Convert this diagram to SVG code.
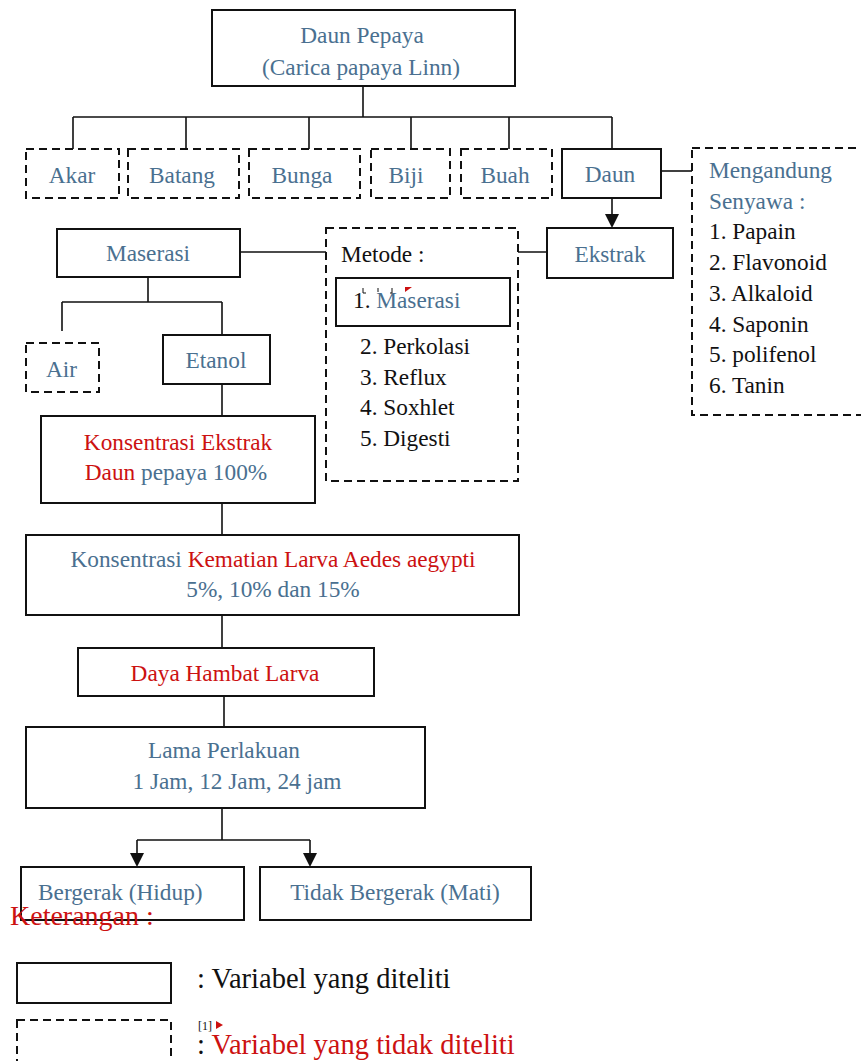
<svg xmlns="http://www.w3.org/2000/svg" width="861" height="1061" viewBox="0 0 861 1061">
<style>
text{font-family:"Liberation Serif","Times New Roman",serif;font-size:23.3px;fill:#4a7090}
.k{fill:#111}
.r{fill:#cc1111}
.m{text-anchor:middle}
.box{fill:#fff;stroke:#111;stroke-width:2}
.dash{fill:#fff;stroke:#111;stroke-width:2;stroke-dasharray:8 5}
.ln{fill:none;stroke:#111;stroke-width:1.6}
</style>
<rect width="861" height="1061" fill="#fff"/>
<g id="connectors">
<path class="ln" d="M363,86 V117 M73,117 H612 M73,117 V149 M186,117 V149 M309,117 V149 M411,117 V149 M509,117 V149 M612,117 V149"/>
<path class="ln" d="M661,171 H692"/>
<path class="ln" d="M612,198 V216"/>
<polygon points="605,214 619,214 612,228" fill="#111"/>
<path class="ln" d="M547,252 H518 M240,252 H326"/>
<path class="ln" d="M148,277 V302 M62,302 H222 M62,302 V331 M222,302 V335"/>
<path class="ln" d="M222,384 V416 M222,503 V535 M222,615 V648 M224,696 V727 M222,808 V840 M137,840 H310 M137,840 V855 M310,840 V855"/>
<polygon points="130,853 144,853 137,867" fill="#111"/>
<polygon points="303,853 317,853 310,867" fill="#111"/>
</g>
<g id="daun-pepaya"><rect class="box" x="212" y="10" width="303" height="76"/><text class="m" x="362" y="43">Daun Pepaya</text><text class="m" x="361" y="75">(Carica papaya Linn)</text></g>
<g id="akar"><rect class="dash" x="26" y="149" width="93" height="49"/><text class="m" x="72" y="183">Akar</text></g>
<g id="batang"><rect class="dash" x="128" y="149" width="111" height="49"/><text class="m" x="182" y="183">Batang</text></g>
<g id="bunga"><rect class="dash" x="249" y="149" width="111" height="49"/><text class="m" x="302" y="183">Bunga</text></g>
<g id="biji"><rect class="dash" x="371" y="149" width="79" height="49"/><text class="m" x="406" y="183">Biji</text></g>
<g id="buah"><rect class="dash" x="461" y="149" width="91" height="49"/><text class="m" x="505" y="183">Buah</text></g>
<g id="daun"><rect class="box" x="562" y="149" width="99" height="49"/><text class="m" x="610" y="182">Daun</text></g>
<g id="senyawa"><rect class="dash" x="692" y="148" width="180" height="267"/>
<text x="709" y="178">Mengandung</text><text x="709" y="209">Senyawa :</text>
<text class="k" x="709" y="239">1. Papain</text><text class="k" x="709" y="270">2. Flavonoid</text><text class="k" x="709" y="301">3. Alkaloid</text><text class="k" x="709" y="332">4. Saponin</text><text class="k" x="709" y="362">5. polifenol</text><text class="k" x="709" y="393">6. Tanin</text></g>
<g id="ekstrak"><rect class="box" x="547" y="228" width="126" height="50"/><text class="m" x="610" y="262">Ekstrak</text></g>
<g id="metode"><rect class="dash" x="326" y="228" width="192" height="253"/>
<text class="k" x="341" y="262">Metode :</text>
<rect class="box" x="336" y="278" width="174" height="48"/>
<text x="353" y="308"><tspan class="k">1. </tspan>Maserasi</text>
<path d="M363,288 V293 H366 M378,288 V292 M392,288 V293 H390" fill="none" stroke="#111" stroke-width="1"/>
<polygon points="405,287 412,287 405,292" fill="#cc1111"/>
<text class="k" x="360" y="354">2. Perkolasi</text><text class="k" x="360" y="385">3. Reflux</text><text class="k" x="360" y="415">4. Soxhlet</text><text class="k" x="360" y="446">5. Digesti</text></g>
<g id="maserasi"><rect class="box" x="57" y="229" width="183" height="48"/><text class="m" x="148" y="261">Maserasi</text></g>
<g id="air"><rect class="dash" x="26" y="343" width="73" height="49"/><text x="46" y="377">Air</text></g>
<g id="etanol"><rect class="box" x="163" y="335" width="107" height="49"/><text class="m" x="216" y="368">Etanol</text></g>
<g id="konsentrasi-ekstrak"><rect class="box" x="41" y="416" width="274" height="87"/><text class="m r" x="178" y="450">Konsentrasi Ekstrak</text><text class="m" x="176" y="480"><tspan class="r">Daun</tspan> pepaya 100%</text></g>
<g id="konsentrasi-kematian"><rect class="box" x="26" y="535" width="493" height="80"/><text class="m" x="273" y="567">Konsentrasi <tspan class="r">Kematian Larva Aedes aegypti</tspan></text><text class="m" x="273" y="597">5%, 10% dan 15%</text></g>
<g id="daya-hambat"><rect class="box" x="78" y="648" width="296" height="48"/><text class="m r" x="225" y="681">Daya Hambat Larva</text></g>
<g id="lama-perlakuan"><rect class="box" x="26" y="727" width="399" height="81"/><text class="m" x="224" y="758">Lama Perlakuan</text><text class="m" x="237" y="789">1 Jam, 12 Jam, 24 jam</text></g>
<g id="bergerak"><rect class="box" x="21" y="867" width="223" height="53"/><text x="38" y="900">Bergerak (Hidup)</text></g>
<g id="tidak-bergerak"><rect class="box" x="260" y="867" width="271" height="53"/><text class="m" x="395" y="900">Tidak Bergerak (Mati)</text></g>
<g id="legend">
<text class="r" x="10" y="925" style="font-size:28px">Keterangan :</text>
<rect class="box" x="17" y="963" width="154" height="40"/>
<text class="k" x="197" y="988" style="font-size:28.5px">: Variabel yang diteliti</text>
<rect class="dash" x="17" y="1020" width="154" height="45"/>
<text class="k" x="198" y="1030" style="font-size:12px">[1]</text>
<polygon points="216,1021 223,1025 216,1029" fill="#cc1111"/>
<text class="k" x="197" y="1054" style="font-size:28.5px">: <tspan class="r">Variabel yang tidak diteliti</tspan></text>
</g>
</svg>
